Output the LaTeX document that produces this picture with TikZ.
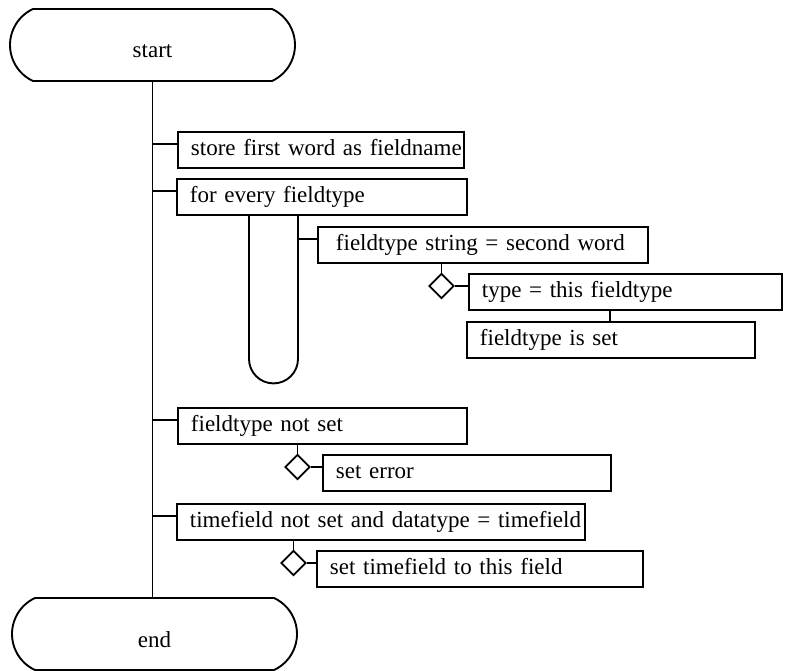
\documentclass[tikz,border=0pt]{standalone}
\usepackage{fontspec}
\setmainfont{Liberation Serif}
\usetikzlibrary{shapes.geometric,shapes.misc,calc}

\begin{document}
\begin{tikzpicture}[x=1pt,y=-1pt,
  every node/.style={font=\fontsize{23}{27}\selectfont},
  line/.style={line width=1.9pt},
  terminal/.style={draw, line width=1.9pt, rounded rectangle,
    rounded rectangle arc length=130, minimum width=285pt, minimum height=72pt,
    inner sep=0pt, text height=31pt, text depth=5pt},
  pbox/.style={draw, line width=1.9pt, rectangle, anchor=north west,
    inner xsep=13pt, inner ysep=0pt, minimum height=36pt,
    text height=16pt, text depth=5pt, align=left},
  cond/.style={draw, line width=1.9pt, diamond, inner sep=0pt,
    minimum width=25pt, minimum height=25pt},
]
\useasboundingbox (0,0) rectangle (793,671);

% terminals
\node[terminal] (start) at (152.5,45) {start};
\node[terminal] (endn) at (154.5,634) {end};

% statement boxes
\node[pbox, text width=260pt] (A) at (177,131) {\mbox{store first word as fieldname}};
\node[pbox, text width=264pt] (B) at (176,178) {\mbox{for every fieldtype}};
\node[pbox, inner xsep=18pt, text width=294pt] (C) at (317,226) {\mbox{fieldtype string = second word}};
\node[pbox, text width=287pt] (D) at (468,273) {\mbox{type = this fieldtype}};
\node[pbox, text width=262pt] (E) at (466,321) {\mbox{fieldtype is set}};
\node[pbox, text width=263pt] (F) at (177,407) {\mbox{fieldtype not set}};
\node[pbox, text width=262pt] (G) at (322,454) {\mbox{set error}};
\node[pbox, text width=382pt] (H) at (176,503) {\mbox{timefield not set and datatype = timefield}};
\node[pbox, text width=300pt] (I) at (316,550) {\mbox{set timefield to this field}};

% selection diamonds
\node[cond] (d1) at (441.5,286) {};
\node[cond] (d2) at (297.5,467) {};
\node[cond] (d3) at (293.5,563) {};

% main sequence line
\draw[line] (start.south) -- (start.south |- endn.north);
\foreach \b in {A,B,F,H}
  \draw[line] ([yshift=6pt]\b.west) -- ([yshift=6pt]\b.west -| start.south);

% iteration loop under "for every fieldtype"
\coordinate (loopL) at ($(B.south west)+(73,0)$);
\coordinate (loopR) at ($(B.south west)+(122,0)$);
\draw[line] (loopL) -- ++(0,143) arc[start angle=180, end angle=0, radius=24.5] -- (loopR);
\draw[line] ([yshift=6pt]C.west) -- ([yshift=6pt]C.west -| loopR);

% selections
\draw[line] (d1.north) -- (d1.north |- C.south);
\draw[line] (d1.east) -- (d1.east -| D.west);
\coordinate (de) at ($(D.south west)+(142,0)$);
\draw[line] (de) -- (de |- E.north);

\draw[line] (d2.north) -- (d2.north |- F.south);
\draw[line] (d2.east) -- (d2.east -| G.west);

\draw[line] (d3.north) -- (d3.north |- H.south);
\draw[line] (d3.east) -- (d3.east -| I.west);
\end{tikzpicture}
\end{document}
